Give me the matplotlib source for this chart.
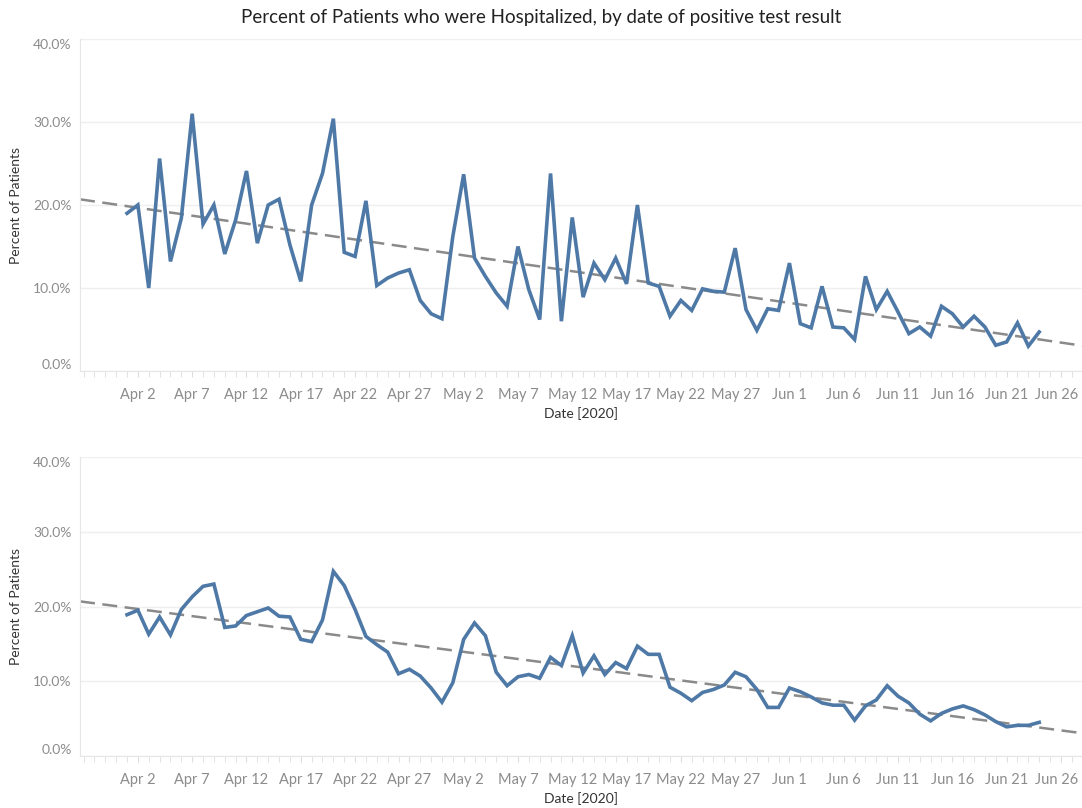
import numpy as np
import pandas as pd
import matplotlib
matplotlib.use("Agg")
import matplotlib.pyplot as plt
import matplotlib.dates as mdates
import matplotlib.transforms as mtransforms
from matplotlib.ticker import FuncFormatter

plt.rcParams['font.family'] = ['Lato', 'DejaVu Sans']

# daily dates, Apr 1 - Jun 24, 2020
dates = pd.date_range("2020-04-01", "2020-06-24", freq="D")

# percent hospitalized, by date of positive test (daily)
daily_pct = [
    19.0, 20.0, 10.0, 25.6, 13.2, 18.4, 31.0, 17.7, 20.0, 14.1,
    18.2, 24.1, 15.4, 20.0, 20.7, 15.2, 10.8, 20.0, 23.8, 30.4,
    14.3, 13.8, 20.5, 10.3, 11.2, 11.8, 12.2, 8.5, 6.9, 6.3,
    16.2, 23.7, 13.6, 11.4, 9.4, 7.8, 15.0, 9.8, 6.2, 23.8,
    6.0, 18.5, 8.9, 13.0, 11.0, 13.6, 10.5, 20.0, 10.6, 10.2,
    6.6, 8.5, 7.3, 9.9, 9.6, 9.5, 14.8, 7.4, 4.9, 7.5,
    7.3, 13.0, 5.7, 5.2, 10.2, 5.3, 5.2, 3.8, 11.4, 7.4,
    9.6, 7.1, 4.5, 5.3, 4.2, 7.8, 6.9, 5.3, 6.6, 5.3,
    3.1, 3.5, 5.8, 3.0, 4.7,
]

# same measure, smoothed
smooth_pct = [
    18.9, 19.5, 16.3, 18.6, 16.2, 19.6, 21.3, 22.7, 23.0, 17.2,
    17.4, 18.8, 19.3, 19.8, 18.7, 18.6, 15.6, 15.3, 18.2, 24.7,
    22.8, 19.6, 16.0, 14.9, 13.9, 11.0, 11.6, 10.7, 9.1, 7.2,
    9.8, 15.6, 17.8, 16.1, 11.2, 9.4, 10.6, 10.9, 10.4, 13.2,
    12.1, 16.1, 11.1, 13.4, 10.9, 12.5, 11.7, 14.7, 13.6, 13.6,
    9.2, 8.4, 7.4, 8.5, 8.9, 9.5, 11.2, 10.6, 8.9, 6.5,
    6.5, 9.1, 8.6, 7.9, 7.1, 6.8, 6.8, 4.8, 6.7, 7.5,
    9.4, 8.0, 7.1, 5.6, 4.7, 5.7, 6.3, 6.7, 6.2, 5.5,
    4.6, 3.9, 4.1, 4.1, 4.5,
]

y_ticks = [0, 10, 20, 30, 40]
x_ticks = pd.date_range("2020-04-02", "2020-06-26", freq="5D")

LINE = "#4e79a7"
TREND = "#8a8a8a"
GRID = "#efefef"
TICKC = "#8c8c8c"
LABC = "#333333"

fig = plt.figure(figsize=(10.82, 8.08), dpi=100)
fig.text(0.5, 1 - 17 / 808, "Percent of Patients who were Hospitalized, by date of positive test result",
         ha="center", va="center", fontsize=13.5, color="#222222")

x0 = mdates.date2num(pd.Timestamp("2020-04-01"))
xlim = (x0 - 4.33, x0 + 87.94)
xnum = mdates.date2num(dates)

# trend line fit on the daily values
coef = np.polyfit(xnum - x0, daily_pct, 1)
trend_x = np.array(xlim)
trend_y = np.polyval(coef, trend_x - x0)

boxes = [(39, 371), (457, 756)]
for (top, bot), vals in zip(boxes, [daily_pct, smooth_pct]):
    ax = fig.add_axes([80 / 1082, 1 - bot / 808, 1002 / 1082, (bot - top) / 808])
    ax.plot(trend_x, trend_y, color=TREND, lw=1.8, ls=(0, (6, 3)), zorder=2)
    ax.plot(dates, vals, color=LINE, lw=2.6, solid_joinstyle="miter", zorder=3)
    ax.set_xlim(xlim)
    ax.set_ylim(0, 40)
    ax.set_yticks(y_ticks)
    ax.yaxis.set_major_formatter(FuncFormatter(lambda v, p: f"{v:.1f}%"))
    ax.grid(axis="y", color=GRID, lw=1)
    ax.set_axisbelow(True)
    for s in ["top", "right"]:
        ax.spines[s].set_visible(False)
    for s in ["left", "bottom"]:
        ax.spines[s].set_color("#e6e6e6")
    ax.set_xticks(mdates.date2num(x_ticks))
    ax.set_xticklabels([d.strftime("%b ") + str(d.day) for d in x_ticks])
    ax.xaxis.set_minor_locator(mdates.DayLocator())
    ax.tick_params(axis="x", which="both", length=4, color="#dddddd", labelcolor=TICKC,
                   labelsize=10.5, pad=8)
    ax.tick_params(axis="y", length=0, labelcolor=TICKC, labelsize=10, pad=6)
    last = ax.get_xticklabels()[-1]
    last.set_transform(last.get_transform() + mtransforms.ScaledTranslation(-0.04, 0, fig.dpi_scale_trans))
    labels = ax.get_yticklabels()
    labels[0].set_va("bottom")
    labels[-1].set_va("top")
    ax.set_xlabel("Date [2020]", fontsize=10, color=LABC, labelpad=4)
    ax.set_ylabel("Percent of Patients", fontsize=10, color=LABC, labelpad=8)

fig.savefig("out.png", dpi=100)
